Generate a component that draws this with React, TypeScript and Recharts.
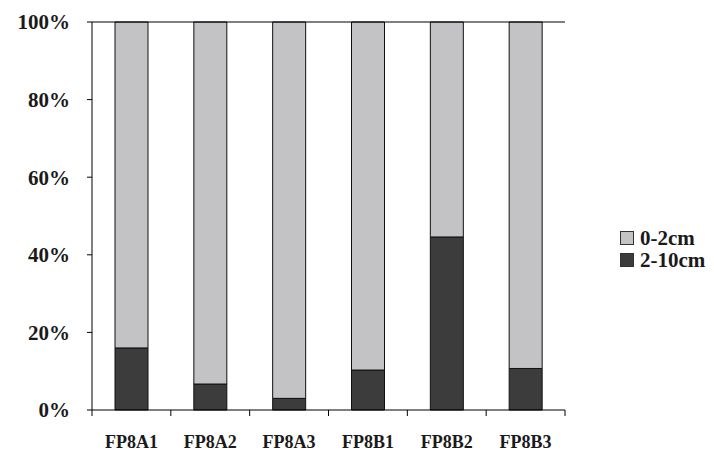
import React from 'react';
import {
  BarChart,
  Bar,
  XAxis,
  YAxis,
  ReferenceLine,
} from 'recharts';

const categories = ['FP8A1', 'FP8A2', 'FP8A3', 'FP8B1', 'FP8B2', 'FP8B3'];
const deep = [16, 6.7, 3, 10.3, 44.6, 10.7]; // 2-10cm
const shallow = [84, 93.3, 97, 89.7, 55.4, 89.3]; // 0-2cm
const yTicks = [0, 20, 40, 60, 80, 100];

const data = categories.map((name, i) => ({ name, deep: deep[i], shallow: shallow[i] }));

const LIGHT = '#c3c3c6';
const DARK = '#3c3c3c';
const FONT = '"Liberation Serif", "Times New Roman", serif';

const CategoryTick = (props: any) => {
  const { x, y, payload, index } = props;
  const band = 473 / categories.length;
  const left = x - band / 2;
  return (
    <g>
      <line x1={left} y1={y - 8} x2={left} y2={y - 2} stroke="#000" />
      {index === categories.length - 1 && (
        <line x1={left + band} y1={y - 8} x2={left + band} y2={y - 2} stroke="#000" />
      )}
      <text
        x={x}
        y={y + 30}
        textAnchor="middle"
        fontFamily={FONT}
        fontWeight="bold"
        fontSize={18}
        fill="#1a1a1a"
      >
        {payload.value}
      </text>
    </g>
  );
};

const LegendBox = () => (
  <div style={{ fontFamily: FONT, fontWeight: 'bold', fontSize: 21, color: '#1a1a1a' }}>
    {[
      { label: '0-2cm', color: LIGHT },
      { label: '2-10cm', color: DARK },
    ].map((item) => (
      <div key={item.label} style={{ display: 'flex', alignItems: 'center', height: 22 }}>
        <span
          style={{
            display: 'inline-block',
            width: 12,
            height: 12,
            background: item.color,
            border: '1px solid #333',
            marginRight: 6,
          }}
        />
        {item.label}
      </div>
    ))}
  </div>
);

const App: React.FC = () => {
  return (
    <div style={{ position: 'absolute', left: 0, top: 0, width: 714, height: 452, background: '#fff' }}>
      <BarChart
        width={714}
        height={452}
        data={data}
        margin={{ top: 22, right: 149, left: 0, bottom: 12 }}
        barSize={33}
      >
        <XAxis
          dataKey="name"
          axisLine={{ stroke: '#000' }}
          tickLine={false}
          height={30}
          tick={<CategoryTick />}
          interval={0}
        />
        <YAxis
          width={92}
          domain={[0, 100]}
          ticks={yTicks}
          tickFormatter={(v) => `${v}%`}
          axisLine={{ stroke: '#000' }}
          tickLine={{ stroke: '#000' }}
          tickSize={5}
          tickMargin={17}
          tick={{ fontFamily: FONT, fontWeight: 'bold', fontSize: 21, fill: '#1a1a1a' }}
        />
        <YAxis
          yAxisId="r"
          orientation="right"
          width={0}
          domain={[0, 100]}
          tick={false}
          tickLine={false}
          axisLine={{ stroke: '#000' }}
        />
        <ReferenceLine y={100} stroke="#000" ifOverflow="extendDomain" />
        <Bar dataKey="deep" name="2-10cm" stackId="a" fill={DARK} stroke="#111" strokeWidth={1} isAnimationActive={false} />
        <Bar dataKey="shallow" name="0-2cm" stackId="a" fill={LIGHT} stroke="#111" strokeWidth={1} isAnimationActive={false} />
      </BarChart>
      <div style={{ position: 'absolute', left: 620, top: 227 }}>
        <LegendBox />
      </div>
    </div>
  );
};

export default App;
